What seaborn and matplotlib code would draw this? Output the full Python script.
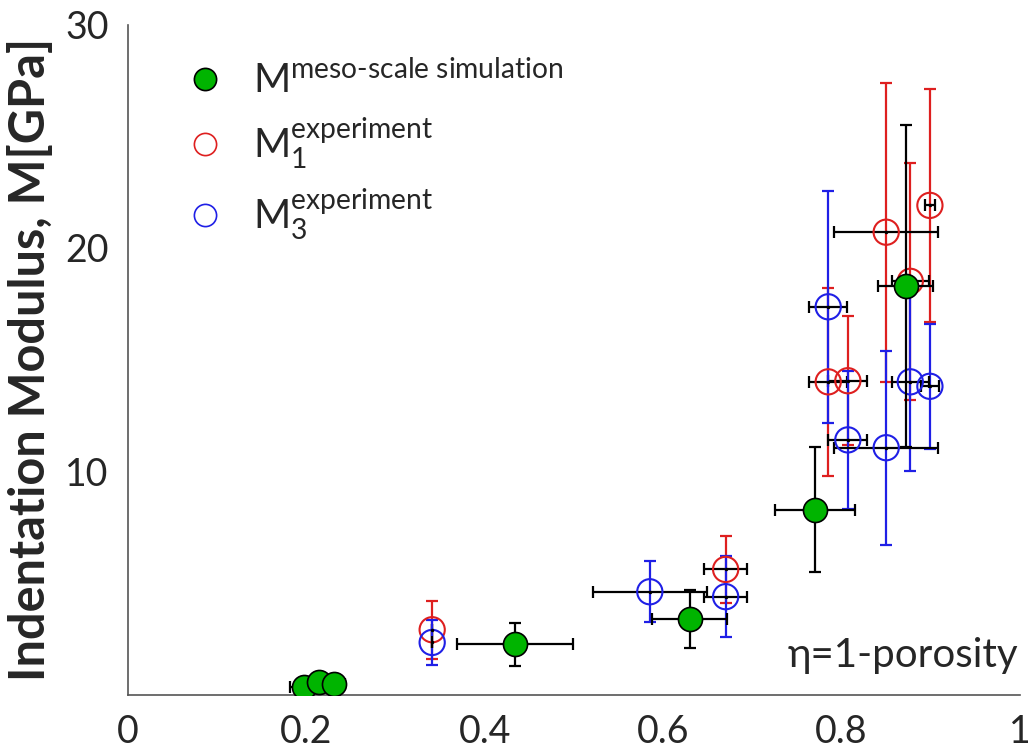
import numpy as np
import pandas as pd
import seaborn as sns
import matplotlib.pyplot as plt
from matplotlib.lines import Line2D

# --- data ---
sim_x = [0.197, 0.214, 0.231, 0.434, 0.630, 0.770, 0.872]
sim_y = [0.35, 0.55, 0.45, 2.24, 3.36, 8.28, 18.30]
sim_xerr = [0.015, 0.012, 0.012, 0.065, 0.042, 0.045, 0.031]
sim_yerr = [0.1, 0.1, 0.1, 0.96, 1.3, 2.8, 7.2]

exp1_x = [0.341, 0.670, 0.785, 0.807, 0.850, 0.877, 0.899]
exp1_y = [2.9, 5.6, 14.0, 14.05, 20.7, 18.5, 21.9]
exp1_xerr = [0.0, 0.024, 0.021, 0.022, 0.058, 0.021, 0.006]
exp1_yerr = [1.3, 1.5, 4.2, 2.9, 6.7, 5.3, 5.2]

exp3_x = [0.341, 0.585, 0.670, 0.785, 0.807, 0.850, 0.877, 0.899]
exp3_y = [2.33, 4.6, 4.38, 17.36, 11.4, 11.05, 14.0, 13.8]
exp3_xerr = [0.0, 0.064, 0.024, 0.021, 0.022, 0.058, 0.021, 0.01]
exp3_yerr = [1.0, 1.37, 1.8, 5.2, 3.1, 4.35, 4.0, 2.8]

x_ticks = [0, 0.2, 0.4, 0.6, 0.8, 1]
x_ticklabels = ["0", "0.2", "0.4", "0.6", "0.8", "1"]
y_ticks = [10, 20, 30]

RED = "#de1f1f"
BLUE = "#1f1fe6"
GREEN = "#00b400"
TXT = "#262626"

sns.set_theme(style="white")
plt.rcParams["font.family"] = ["Lato", "DejaVu Sans"]
plt.rcParams["mathtext.fontset"] = "custom"
plt.rcParams["mathtext.rm"] = "Lato"
plt.rcParams["mathtext.it"] = "Lato:italic"
plt.rcParams["mathtext.bf"] = "Lato:bold"

fig = plt.figure(figsize=(10.34, 7.55), dpi=100)
ax = fig.add_axes([128 / 1034, 60.5 / 755, 892 / 1034, 670 / 755])


def draw_exp(xs, ys, xerr, yerr, color):
    # vertical bars in series colour, horizontal bars in black
    ax.errorbar(xs, ys, yerr=yerr, fmt="none", ecolor=color, elinewidth=1.6,
                capsize=4.5, capthick=1.6, zorder=2)
    ax.errorbar(xs, ys, xerr=xerr, fmt="none", ecolor="black", elinewidth=1.6,
                capsize=4.5, capthick=1.6, zorder=2)
    sns.scatterplot(x=xs, y=ys, ax=ax, s=330, color=color, linewidth=1.5, zorder=3)
    pts = ax.collections[-1]
    pts.set_facecolor("none")
    pts.set_edgecolor(color)
    ax.plot(xs, ys, ".", color="black", markersize=3, zorder=4)


draw_exp(exp1_x, exp1_y, exp1_xerr, exp1_yerr, RED)
draw_exp(exp3_x, exp3_y, exp3_xerr, exp3_yerr, BLUE)

# simulation on top
ax.errorbar(sim_x, sim_y, xerr=sim_xerr, yerr=sim_yerr, fmt="none", ecolor="black",
            elinewidth=1.6, capsize=4.5, capthick=1.6, zorder=5)
sns.scatterplot(x=sim_x, y=sim_y, ax=ax, s=300, color=GREEN, edgecolor="black",
                linewidth=1.2, zorder=6)

ax.set_xlim(0, 1)
ax.set_ylim(0, 30)
ax.set_xticks(x_ticks)
ax.set_xticklabels(x_ticklabels)
ax.set_yticks(y_ticks)
ax.tick_params(direction="in", length=5, width=1, color="#555555",
               labelsize=27, labelcolor=TXT, pad=14)
for side in ["top", "right"]:
    ax.spines[side].set_visible(False)
for side in ["left", "bottom"]:
    ax.spines[side].set_color("#555555")
    ax.spines[side].set_linewidth(1.2)

ax.set_ylabel("Indentation Modulus, M[GPa]", fontsize=35, fontweight="bold", color=TXT)
ax.yaxis.set_label_coords(-0.084, 0.5)

ax.text(0.998, 0.03, "η=1-porosity", transform=ax.transAxes, ha="right", va="bottom",
        fontsize=29, color=TXT)

handles = [
    Line2D([], [], marker="o", linestyle="none", markersize=16, markerfacecolor=GREEN,
           markeredgecolor="black", markeredgewidth=1.2),
    Line2D([], [], marker="o", linestyle="none", markersize=16, markerfacecolor="none",
           markeredgecolor=RED, markeredgewidth=1.2),
    Line2D([], [], marker="o", linestyle="none", markersize=16, markerfacecolor="none",
           markeredgecolor=BLUE, markeredgewidth=1.2),
]
labels = [
    r"M$^{\text{meso-scale simulation}}$",
    r"M$_1^{\text{experiment}}$",
    r"M$_3^{\text{experiment}}$",
]
ax.legend(handles, labels, loc="upper left", bbox_to_anchor=(0.023, 1.0), frameon=False,
          fontsize=29, labelspacing=0.38, handlelength=1.0, handletextpad=0.7,
          labelcolor=TXT)

fig.savefig("out.png", dpi=100)
